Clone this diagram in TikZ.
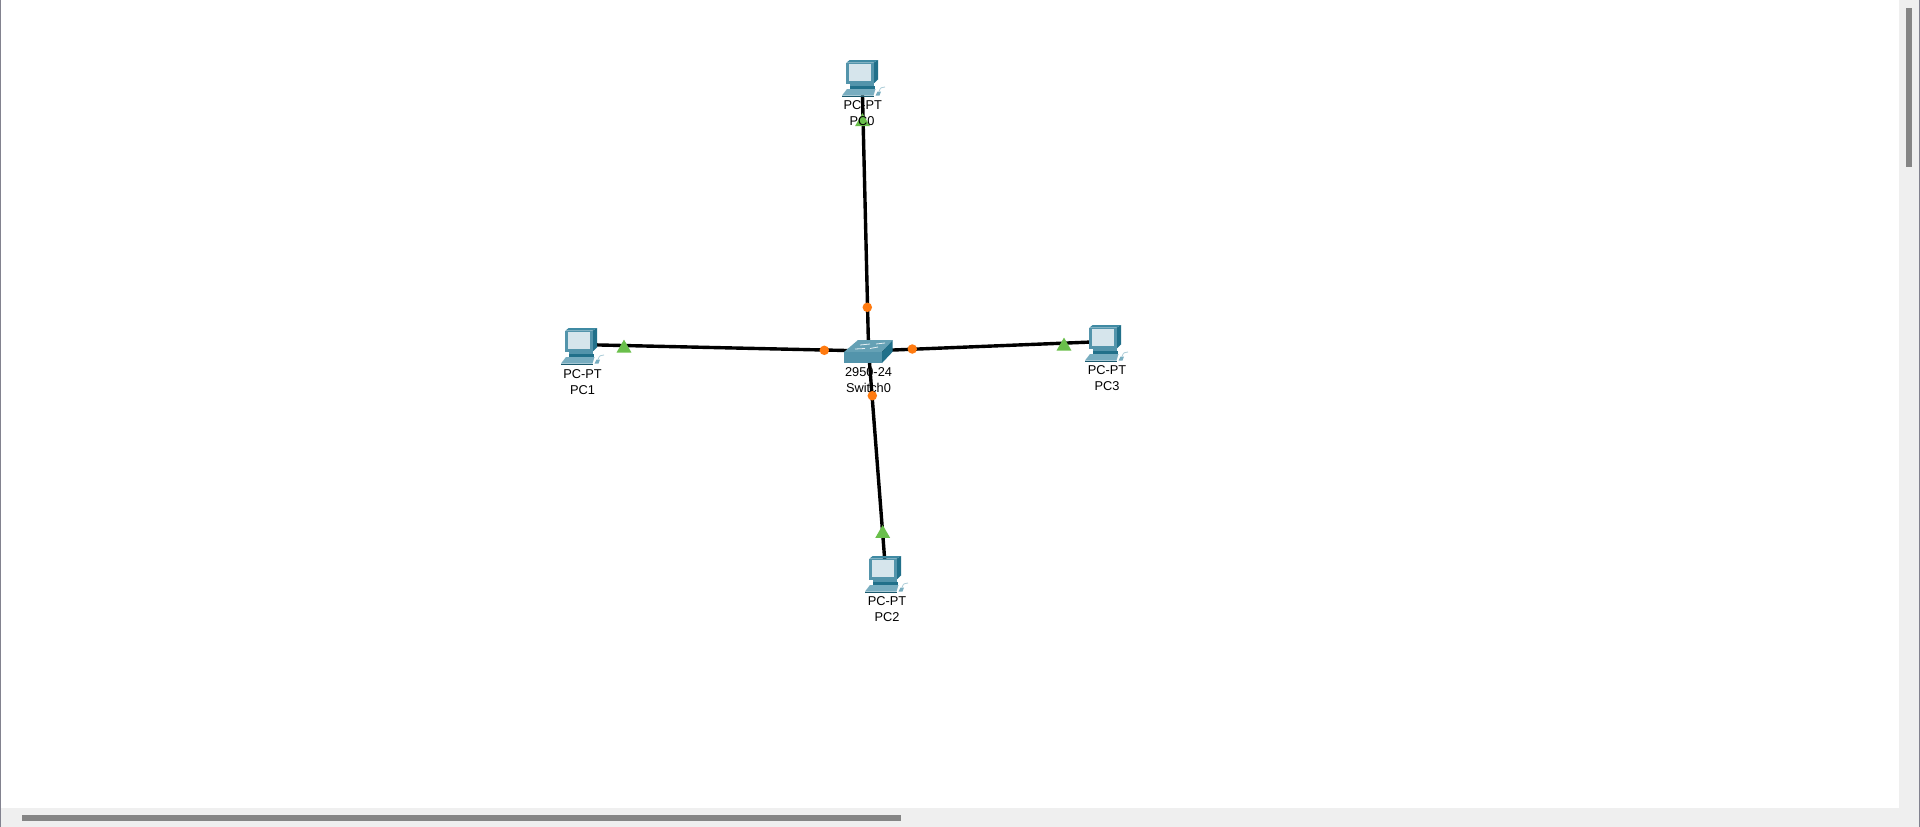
\documentclass[tikz,border=0pt]{standalone}
\usepackage{fontspec}
\setmainfont{Liberation Sans}
\usetikzlibrary{shapes.geometric}
\definecolor{pcfront}{HTML}{5394AB}
\definecolor{pcside}{HTML}{21708A}
\definecolor{pctop}{HTML}{3F8AA3}
\definecolor{pcscreen}{HTML}{D6E5EC}
\definecolor{pcbase}{HTML}{78ADC0}
\definecolor{linkgreen}{HTML}{6ABF4B}
\definecolor{linkorange}{HTML}{FF7A0F}
\definecolor{track}{HTML}{EFEFEF}
\definecolor{thumb}{HTML}{858585}
\definecolor{edgeline}{HTML}{82828F}
\tikzset{
  link/.style={draw=black,line width=3.4pt},
  odot/.style={circle,fill=linkorange,inner sep=0pt,minimum size=9.5pt},
  gtri/.style={regular polygon,regular polygon sides=3,fill=linkgreen,inner sep=0pt,minimum size=17.2pt},
  lbl/.style={font=\fontsize{12.8pt}{14pt}\selectfont,inner sep=0pt,anchor=center,text=black},
  pcicon/.pic={
    \fill[pctop] (4.3,2.7) -- (7.7,0) -- (36,0) -- (31.7,2.7) -- cycle;
    \fill[pcside] (31.7,2.7) -- (36,0) -- (36,19.5) -- (31.7,23.5) -- cycle;
    \fill[pcfront] (4.3,2.7) rectangle (31.7,23.5);
    \fill[pcscreen] (6.7,4) rectangle (29.3,20.5);
    \fill[pcfront] (7.5,23.5) rectangle (31.7,26);
    \fill[pcside] (7.5,25.5) rectangle (32.5,29);
    \fill[pcbase] (0,35.5) -- (5,29) -- (33.5,29) -- (31.5,35.5) -- cycle;
    \fill[pcside!80!black] (0,35.5) rectangle (31.5,36.3);
    \fill[pcbase] (33.5,35.5) -- (35.5,31.5) -- (39,31.5) -- (37.5,35.5) -- cycle;
    \draw[pcbase!60!white,line width=0.8pt] (37,31.5) .. controls (38,28) and (40,26.5) .. (43,27);
  }
}
\begin{document}
\begin{tikzpicture}[x=1pt,y=-1pt]
\useasboundingbox (0,0) rectangle (1920,827);
\fill[white] (0,0) rectangle (1920,827);
% scrollbars and window edge
\fill[track] (1899,0) rectangle (1920,827);
\fill[track] (0,807.5) rectangle (1920,827);
\fill[thumb] (1906,8) rectangle (1912,166.5);
\fill[thumb] (22,815) rectangle (901,821);
\fill[edgeline] (0,0) rectangle (1.2,827);
\fill[edgeline] (1918.7,0) rectangle (1920,827);
% device positions
\coordinate (pc0) at (862,75);
\coordinate (pc1) at (582,344.6);
\coordinate (pc2) at (885.5,570);
\coordinate (pc3) at (1102,341.6);
\coordinate (sw) at (868.6,351);
% links
\draw[link] (pc0) -- (sw);
\draw[link] (pc1) -- (sw);
\draw[link] (pc2) -- (sw);
\draw[link] (pc3) -- (sw);
% link lights at the PCs
\node[gtri] (g0) at (862.5,121.8) {};
\node[gtri] (g1) at (624,348.2) {};
\node[gtri] (g2) at (882.7,533.6) {};
\node[gtri] (g3) at (1064,346.2) {};
% PCs
\pic at (842,60) {pcicon};
\pic at (561,328) {pcicon};
\pic at (865,556) {pcicon};
\pic at (1085,325) {pcicon};
% switch
\fill[pctop!80!white] (844,352) -- (858,340) -- (892.7,340) -- (882,352) -- cycle;
\fill[pcside] (882,352) -- (892.7,340) -- (892.7,351.7) -- (882,363) -- cycle;
\fill[pcfront] (844,352) rectangle (882,363);
\draw[white!85!pcfront,line width=0.8pt] (860,345) -- (870,344) (876,344) -- (885,343) (855,349) -- (865,348.5) (870,348.5) -- (878,347);
% labels
\node[lbl] (pc0a) at (862.7,105.3) {PC-PT};
\node[lbl] (pc0b) at (862,121.3) {PC0};
\node[lbl] (pc1a) at (582.5,373.8) {PC-PT};
\node[lbl] (pc1b) at (582.5,389.8) {PC1};
\node[lbl] (pc2a) at (887,601.3) {PC-PT};
\node[lbl] (pc2b) at (887,617.3) {PC2};
\node[lbl] (pc3a) at (1107,370.3) {PC-PT};
\node[lbl] (pc3b) at (1107,386.3) {PC3};
\node[lbl] (swa) at (868.5,372.3) {2950-24};
\node[lbl] (swb) at (868.5,388.3) {Switch0};
% link lights at the switch
\node[odot] (o0) at (867.3,307.3) {};
\node[odot] (o1) at (824.3,350.3) {};
\node[odot] (o2) at (872.3,395.7) {};
\node[odot] (o3) at (912.3,349) {};
\end{tikzpicture}
\end{document}
